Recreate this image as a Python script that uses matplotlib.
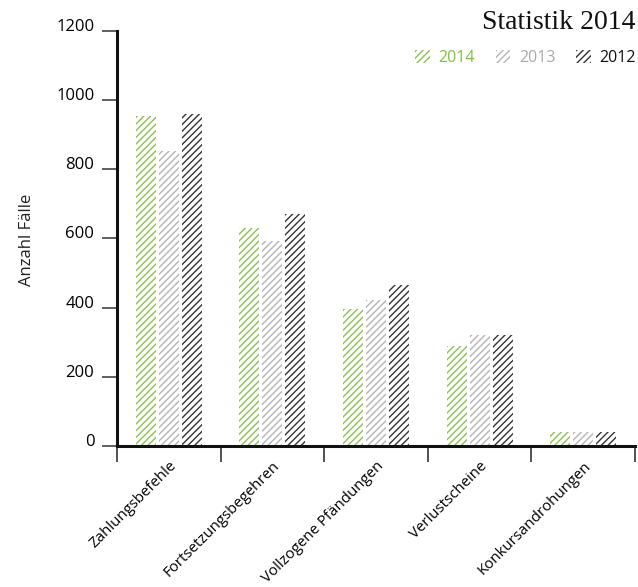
import matplotlib
matplotlib.use("Agg")
import matplotlib.pyplot as plt
import numpy as np

plt.rcParams["font.family"] = ["Open Sans", "DejaVu Sans"]
plt.rcParams["hatch.linewidth"] = 1.0

categories = ["Zahlungsbefehle", "Fortsetzungsbegehren", "Vollzogene Pfändungen",
              "Verlustscheine", "Konkursandrohungen"]
years = ["2014", "2013", "2012"]
v2014 = [955, 631, 397, 288, 40]
v2013 = [853, 594, 421, 322, 40]
v2012 = [960, 671, 465, 322, 40]
series = [v2014, v2013, v2012]
colors = ["#8cc152", "#b4b4b4", "#333333"]

fig = plt.figure(figsize=(6.38, 5.87), dpi=100)
ax = fig.add_axes([117/638, 1-446/587, 518/638, 415/587])

x = np.arange(len(categories))
w, step = 0.193, 0.222
handles = []
for i, (vals, c, yr) in enumerate(zip(series, colors, years)):
    b = ax.bar(x + (i - 1) * step, vals, w, color="none", edgecolor=c,
               hatch="/////", linewidth=0, label=yr)
    handles.append(b)

ax.set_xlim(-0.5, len(categories) - 0.5)
ax.set_ylim(0, 1200)
ax.set_yticks(range(0, 1201, 200))
for lab in ax.get_yticklabels():
    lab.set_verticalalignment("baseline")
ax.tick_params(axis="y", length=10.8, width=1.1, color="#333", labelsize=12, pad=5.5)

ax.set_xticks(np.arange(-0.5, len(categories)), labels=[])
ax.tick_params(axis="x", which="major", length=11.5, width=1.1, color="#222")
ax.set_xticks(x, minor=True)
ax.set_xticklabels(categories, minor=True, rotation=45, ha="right",
                   rotation_mode="anchor", fontsize=10.8)
ax.tick_params(axis="x", which="minor", length=0, pad=9)

for s in ("top", "right"):
    ax.spines[s].set_visible(False)
for s in ("left", "bottom"):
    ax.spines[s].set_linewidth(2.2)
    ax.spines[s].set_color("#111")

fig.text(27/638, 1-240/587, "Anzahl Fälle", rotation=90, ha="center", va="center",
         fontsize=12, color="#222")
fig.text(635/638, 1-29/587, "Statistik 2014", ha="right", va="baseline",
         fontsize=20, family="Liberation Serif", color="#111")

leg = ax.legend(handles=handles, loc="center right", bbox_to_anchor=(636/638, 1-58/587),
                bbox_transform=fig.transFigure, ncol=3, frameon=False, fontsize=11.5,
                handlelength=0.9, handleheight=0.8, columnspacing=1.3,
                handletextpad=0.55, borderpad=0, borderaxespad=0)
for t, c in zip(leg.get_texts(), ["#7dc142", "#aaaaaa", "#111111"]):
    t.set_color(c)

fig.savefig("out.png", dpi=100)
